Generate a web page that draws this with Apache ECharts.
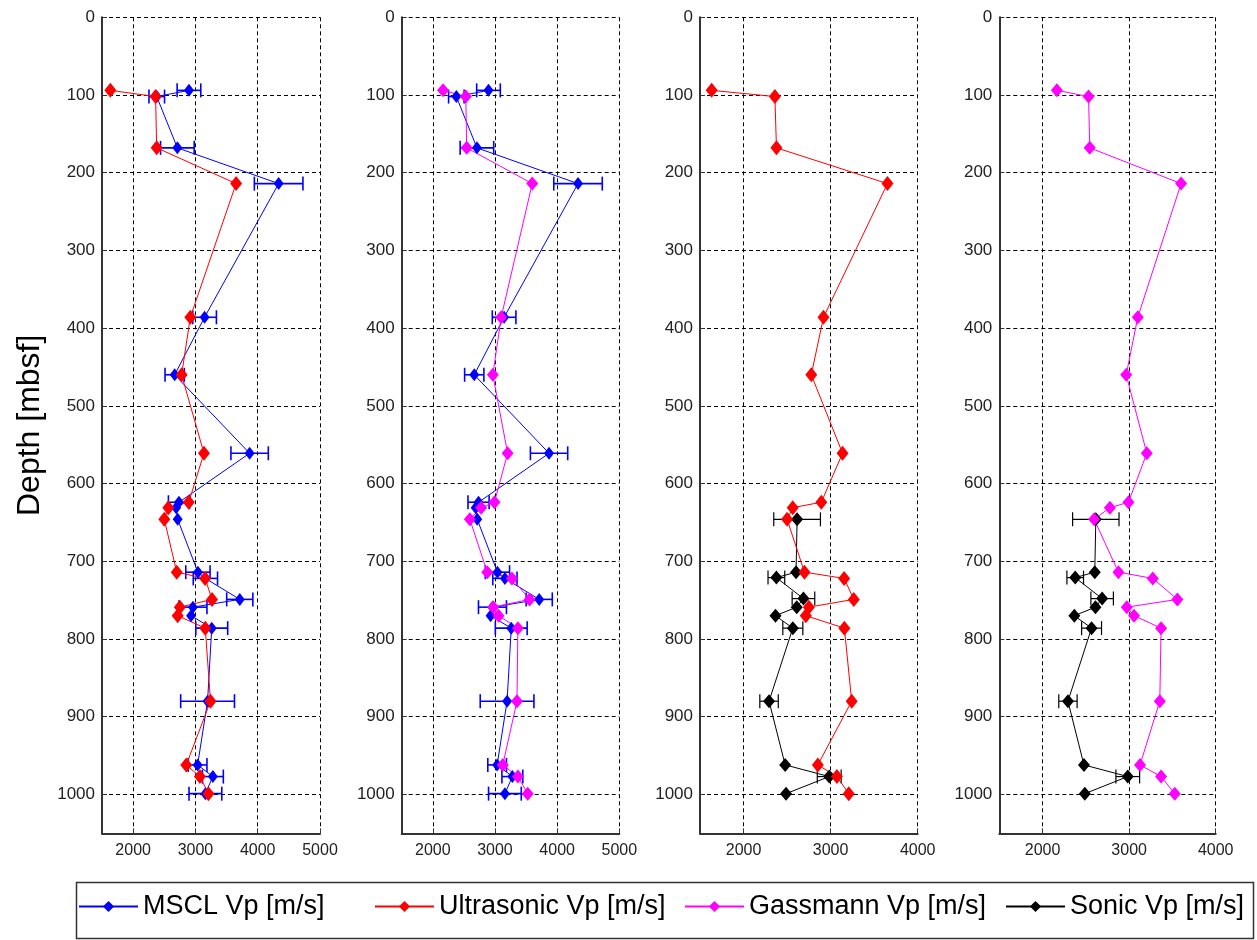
<!DOCTYPE html>
<html>
<head>
<meta charset="utf-8">
<script src="https://cdn.jsdelivr.net/npm/echarts@6/dist/echarts.min.js"></script>
<style>
html,body{margin:0;padding:0;background:#fff;}
#chart{width:1257px;height:940px;}
</style>
</head>
<body>
<div id="chart"></div>
<script>
// ---------------- DATA ----------------
const coreDepth    = [94, 102, 168, 214, 386, 460, 561, 624, 631, 646, 714, 722, 749, 759, 770, 786, 880, 962, 977, 999];
const msclVp       = [2896, 2379, 2710, 4336, 3147, 2667, 3870, 2736, 2690, 2715, 3040, 3160, 3712, 2960, 2930, 3262, 3195, 3035, 3280, 3160];
const msclErr      = [190, 125, 270, 390, 190, 155, 300, 170, 0, 0, 195, 195, 210, 225, 0, 256, 432, 150, 168, 263];
const ultrasonicVp = [1634, 2360, 2378, 3653, 2918, 2778, 3137, 2893, 2565, 2500, 2700, 3155, 3266, 2750, 2715, 3158, 3242, 2853, 3072, 3208];
const gassmannVp   = [2165, 2531, 2545, 3600, 3100, 2966, 3204, 2992, 2778, 2596, 2876, 3273, 3557, 2973, 3057, 3369, 3354, 3126, 3369, 3527];
const sonicDepth   = [646, 714, 721, 748, 759, 770, 786, 880, 962, 977, 999];
const sonicVp      = [2615, 2603, 2377, 2688, 2611, 2367, 2566, 2293, 2478, 2984, 2488];
const sonicErr     = [268, 0, 96, 130, 0, 0, 115, 106, 0, 137, 0];

const depthTicks   = [0, 100, 200, 300, 400, 500, 600, 700, 800, 900, 1000];
const vpTicksWide  = [2000, 3000, 4000, 5000];
const vpTicksNarrow= [2000, 3000, 4000];

const seriesNames = ['MSCL Vp [m/s]', 'Ultrasonic Vp [m/s]', 'Gassmann Vp [m/s]', 'Sonic Vp [m/s]'];

// ---------------- LAYOUT / STYLE ----------------
const FONT = "'Liberation Sans', Arial, sans-serif";
const C = {mscl:'#0000ff', ultra:'#ff0000', gass:'#ff00ff', sonic:'#000000'};
const gridLeft  = [102, 401.7, 700, 999.3];
const gridWidth = [218, 217.6, 217.7, 216.4];
const xMaxes    = [5000, 5000, 4000, 4000];
const xTickSets = [vpTicksWide, vpTicksWide, vpTicksNarrow, vpTicksNarrow];
const legendLeft = [78, 374, 684, 1005];

const grids = gridLeft.map((l, i) => ({left: l, top: 17.3, width: gridWidth[i], height: 816}));

const splitStyle = {show: true, lineStyle: {color: '#000', width: 1, type: [4, 3]}};
const axisLineStyle = {show: true, onZero: false, lineStyle: {color: '#333', width: 2}};
const plain = v => String(v);

const xAxes = grids.map((g, i) => ({
  type: 'value', gridIndex: i, position: 'bottom', min: 1500, max: xMaxes[i],
  axisLine: axisLineStyle,
  axisTick: {show: true, inside: true, length: 5, customValues: xTickSets[i], lineStyle: {color: '#333'}},
  axisLabel: {customValues: xTickSets[i], formatter: plain, fontSize: 16, fontFamily: FONT, color: '#222', margin: 9},
  splitLine: splitStyle
}));

const yAxes = grids.map((g, i) => ({
  type: 'value', gridIndex: i, inverse: true, min: 0, max: 1050,
  axisLine: axisLineStyle,
  axisTick: {show: true, inside: true, length: 5, customValues: depthTicks, lineStyle: {color: '#333'}},
  axisLabel: {customValues: depthTicks, formatter: plain, fontSize: 17, fontFamily: FONT, color: '#222', margin: 7},
  splitLine: splitStyle,
  name: i === 0 ? 'Depth [mbsf]' : '',
  nameLocation: 'middle', nameGap: 56, nameRotate: 90,
  nameTextStyle: {fontSize: 32, fontFamily: FONT, color: '#000'}
}));

function pts(vals, depths) { return depths.map((d, i) => [vals[i], d]); }

function lineSeries(name, vals, depths, color, size, idx) {
  return {
    type: 'line', name: name, xAxisIndex: idx, yAxisIndex: idx,
    data: pts(vals, depths),
    symbol: 'diamond', symbolSize: size, showAllSymbol: true,
    lineStyle: {color: color, width: 1},
    itemStyle: {color: color},
    emphasis: {disabled: true},
    animation: false
  };
}

function errSeries(vals, errs, depths, color, width, idx) {
  return {
    type: 'custom', xAxisIndex: idx, yAxisIndex: idx, silent: true, animation: false,
    data: depths.map((d, i) => [vals[i] - errs[i], vals[i] + errs[i], d, errs[i]]),
    encode: {x: [0, 1], y: 2},
    renderItem: function (params, api) {
      if (api.value(3) <= 0) return null;
      const lo = api.coord([api.value(0), api.value(2)]);
      const hi = api.coord([api.value(1), api.value(2)]);
      const h = 7;
      const st = {stroke: color, lineWidth: width};
      return {type: 'group', children: [
        {type: 'line', shape: {x1: lo[0], y1: lo[1], x2: hi[0], y2: hi[1]}, style: st},
        {type: 'line', shape: {x1: lo[0], y1: lo[1] - h, x2: lo[0], y2: lo[1] + h}, style: st},
        {type: 'line', shape: {x1: hi[0], y1: hi[1] - h, x2: hi[0], y2: hi[1] + h}, style: st}
      ]};
    }
  };
}

const series = [
  // panel 1
  errSeries(msclVp, msclErr, coreDepth, C.mscl, 1.6, 0),
  lineSeries(seriesNames[0], msclVp, coreDepth, C.mscl, [10, 13], 0),
  lineSeries(seriesNames[1], ultrasonicVp, coreDepth, C.ultra, [12, 15], 0),
  // panel 2
  errSeries(msclVp, msclErr, coreDepth, C.mscl, 1.6, 1),
  lineSeries(seriesNames[0], msclVp, coreDepth, C.mscl, [10, 13], 1),
  lineSeries(seriesNames[2], gassmannVp, coreDepth, C.gass, [12, 14], 1),
  // panel 3
  errSeries(sonicVp, sonicErr, sonicDepth, C.sonic, 1.2, 2),
  lineSeries(seriesNames[3], sonicVp, sonicDepth, C.sonic, [12, 14], 2),
  lineSeries(seriesNames[1], ultrasonicVp, coreDepth, C.ultra, [12, 15], 2),
  // panel 4
  errSeries(sonicVp, sonicErr, sonicDepth, C.sonic, 1.2, 3),
  lineSeries(seriesNames[3], sonicVp, sonicDepth, C.sonic, [12, 14], 3),
  lineSeries(seriesNames[2], gassmannVp, coreDepth, C.gass, [12, 14], 3)
];

const legends = seriesNames.map((n, i) => ({
  data: [n], left: legendLeft[i], top: 893, padding: 0,
  itemWidth: 59, itemHeight: 14, selectedMode: false,
  textStyle: {fontSize: 27, fontFamily: FONT, color: '#000'}
}));

const chart = echarts.init(document.getElementById('chart'), null, {renderer: 'canvas'});
chart.setOption({
  backgroundColor: '#fff',
  animation: false,
  grid: grids,
  xAxis: xAxes,
  yAxis: yAxes,
  legend: legends,
  graphic: [{
    type: 'rect', left: 74, top: 880, silent: true,
    shape: {width: 1177, height: 56},
    style: {fill: 'none', stroke: '#333', lineWidth: 1.5}
  }],
  series: series
});
</script>
</body>
</html>
